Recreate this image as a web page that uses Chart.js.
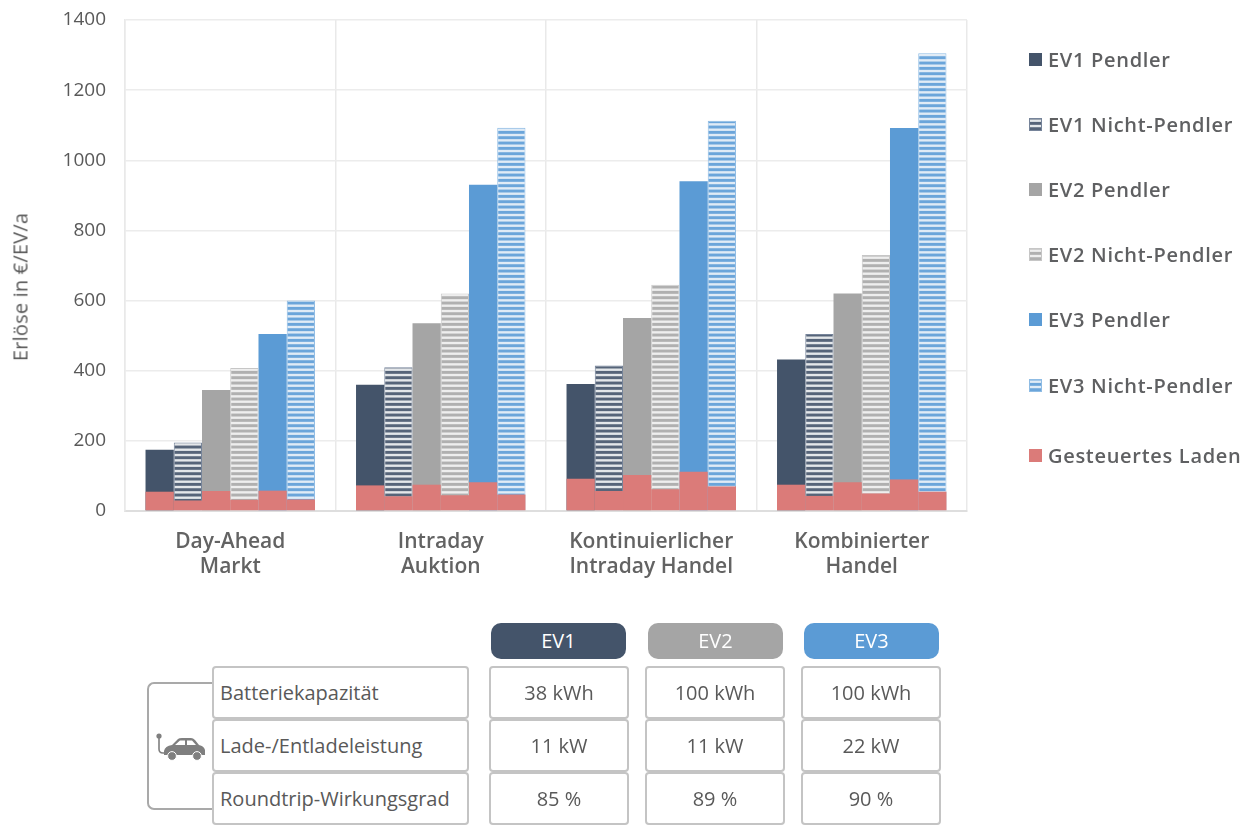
<!DOCTYPE html>
<html lang="de">
<head>
<meta charset="utf-8">
<title>Erlöse je EV und Vermarktungsoption</title>
<script src="https://cdn.jsdelivr.net/npm/chart.js@4"></script>
<style>
    html, body { margin: 0; padding: 0; background: #fff; width: 1248px; height: 825px; overflow: hidden; }
    body { position: relative; font-family: "Open Sans", sans-serif; color: #595959; }
    #revenueChart { position: absolute; left: 0; top: 0; }

    .axis-title { position: absolute; left: 20px; top: 287px; font-size: 20px; letter-spacing: 0.2px; white-space: nowrap;
        transform: translate(-50%, -50%) rotate(-90deg); }

    .legend-row { position: absolute; left: 1029px; height: 24px; display: flex; align-items: center;
        font-size: 20px; font-weight: 600; white-space: nowrap; color: #5f6062; letter-spacing: 0.7px; }
    .legend-swatch { width: 13px; height: 13px; margin-right: 6px; box-sizing: border-box; }

    .pill { position: absolute; top: 623px; height: 36px; width: 135px; border-radius: 10px; color: #fff;
        font-size: 20px; line-height: 36px; text-align: center; }
    .cell { position: absolute; height: 53px; box-sizing: border-box; border: 2px solid #c4c4c4; border-radius: 4px;
        background: #fff; line-height: 50px; white-space: nowrap; }
    .cell.param { left: 212px; width: 257px; padding-left: 6px; font-size: 20px; }
    .cell.value { width: 140px; text-align: center; font-size: 20px; }
    .bracket { position: absolute; left: 147px; top: 682px; width: 66px; height: 128px; box-sizing: border-box;
        border: 2px solid #a9a9a9; border-right: none; border-radius: 7px 0 0 7px; }
    .car { position: absolute; left: 155px; top: 730px; }
</style>
</head>
<body>
<canvas id="revenueChart" width="1248" height="825"></canvas>
<div class="axis-title">Erlöse in €/EV/a</div>
<div id="legend"></div>
<div id="specTable"></div>
<svg class="car" width="52" height="34" viewBox="0 0 52 34">
    <circle cx="4" cy="6" r="2.6" fill="#7f7f7f"/>
    <path d="M4 7 V19 Q4 23 8 23 H11" fill="none" stroke="#7f7f7f" stroke-width="1.6"/>
    <path d="M9 21 Q10 16 17 15 L23 9 Q24 8 27 8 H36 Q38 8 40 10 L44 15 Q49 16 50 20 V25 H9 Z" fill="#7f7f7f"/>
    <path d="M20 15 L25 10.5 H30 V15 Z M32 10.5 H37 L41 15 H32 Z" fill="#fff"/>
    <circle cx="17" cy="26" r="4.4" fill="#7f7f7f" stroke="#fff" stroke-width="1"/>
    <circle cx="42" cy="26" r="4.4" fill="#7f7f7f" stroke="#fff" stroke-width="1"/>
</svg>

<script>
// Märkte
const categories = [
    ['Day-Ahead', 'Markt'],
    ['Intraday', 'Auktion'],
    ['Kontinuierlicher', 'Intraday Handel'],
    ['Kombinierter', 'Handel']
];

// Gesamterlöse je Fahrzeugtyp (€/EV/a)
const ev1Pendler = [175, 360, 362, 432];
const ev1NichtPendler = [195, 410, 415, 505];
const ev2Pendler = [345, 535, 550, 620];
const ev2NichtPendler = [408, 620, 645, 730];
const ev3Pendler = [505, 930, 940, 1092];
const ev3NichtPendler = [600, 1093, 1113, 1305];

// Anteil aus gesteuertem Laden
const ladenEv1Pendler = [55, 73, 92, 75];
const ladenEv1NichtPendler = [30, 42, 57, 43];
const ladenEv2Pendler = [57, 75, 103, 82];
const ladenEv2NichtPendler = [32, 45, 62, 50];
const ladenEv3Pendler = [58, 82, 112, 90];
const ladenEv3NichtPendler = [33, 47, 70, 55];

const yTickMax = 1400;
const yTickStep = 200;

// Fahrzeugdaten
const specNames = ['Batteriekapazität', 'Lade-/Entladeleistung', 'Roundtrip-Wirkungsgrad'];
const ev1Specs = ['38 kWh', '11 kW', '85 %'];
const ev2Specs = ['100 kWh', '11 kW', '89 %'];
const ev3Specs = ['100 kWh', '22 kW', '90 %'];

const DARK = '#44546a';
const GREY = '#a5a5a5';
const BLUE = '#5b9bd5';
const RED = '#db7b79';
const TEXT = '#595959';

// Streifenmuster für die Nicht-Pendler
function stripes(color, gap) {
    const c = document.createElement('canvas');
    c.width = 4;
    c.height = 16;
    const g = c.getContext('2d');
    g.fillStyle = color;
    g.fillRect(0, 0, 4, 16);
    g.fillStyle = gap;
    for (let i = 0; i < 3; i++) {
        g.fillRect(0, i * 16 / 3 + 0.5, 4, 2.4);
    }
    return c;
}

const ctx = document.getElementById('revenueChart').getContext('2d');
const stripeDark = stripes('#566479', '#e4e7ea');
const stripeGrey = stripes('#b0b0b0', '#eeeeee');
const stripeBlue = stripes('#6ba5da', '#e0ebf6');

function solid(label, data, stack, color) {
    return { label, data, stack, backgroundColor: color, order: 2 };
}

function striped(label, data, stack, canvas, edge) {
    return {
        label, data, stack,
        backgroundColor: ctx.createPattern(canvas, 'repeat'),
        borderColor: edge,
        borderWidth: { left: 1, right: 1, top: 1, bottom: 0 },
        order: 2
    };
}

function laden(data, stack) {
    return { label: 'Gesteuertes Laden', data, stack, backgroundColor: RED, order: 1 };
}

const chart = new Chart(ctx, {
    type: 'bar',
    data: {
        labels: categories,
        datasets: [
            solid('EV1 Pendler', ev1Pendler, 'a', DARK),
            striped('EV1 Nicht-Pendler', ev1NichtPendler, 'b', stripeDark, '#76849a'),
            solid('EV2 Pendler', ev2Pendler, 'c', GREY),
            striped('EV2 Nicht-Pendler', ev2NichtPendler, 'd', stripeGrey, '#c6c6c6'),
            solid('EV3 Pendler', ev3Pendler, 'e', BLUE),
            striped('EV3 Nicht-Pendler', ev3NichtPendler, 'f', stripeBlue, '#8fbce4'),
            laden(ladenEv1Pendler, 'a'),
            laden(ladenEv1NichtPendler, 'b'),
            laden(ladenEv2Pendler, 'c'),
            laden(ladenEv2NichtPendler, 'd'),
            laden(ladenEv3Pendler, 'e'),
            laden(ladenEv3NichtPendler, 'f')
        ]
    },
    options: {
        responsive: false,
        animation: false,
        categoryPercentage: 0.805,
        barPercentage: 1,
        layout: { padding: { left: 10, top: 20, right: 281, bottom: 224 } },
        plugins: {
            legend: { display: false },
            tooltip: { enabled: false }
        },
        scales: {
            x: {
                grid: { color: '#e9e9e9', lineWidth: 1.5, drawTicks: false },
                border: { color: '#dedede', width: 2 },
                afterFit: scale => { scale.height = 90; },
                ticks: {
                    color: '#636363',
                    padding: 18,
                    maxRotation: 0,
                    autoSkip: false,
                    font: { family: 'Open Sans', size: 21, weight: '600', lineHeight: 1.22 }
                }
            },
            y: {
                stacked: false,
                min: 0,
                max: yTickMax,
                afterFit: scale => { scale.width = 115; },
                // unsichtbare Ticks als Abstand, ticks.padding würde die Zeichenfläche nach unten schieben
                grid: { color: '#ececec', lineWidth: 1.5, tickColor: 'rgba(0,0,0,0)', tickLength: 19 },
                border: { color: '#e9e9e9', width: 1.5 },
                ticks: {
                    stepSize: yTickStep,
                    color: TEXT,
                    padding: 0,
                    callback: value => String(value),
                    font: { family: 'Open Sans', size: 19, weight: '400' }
                }
            }
        }
    }
});

// Legende rechts neben dem Diagramm
const legendRows = [59, 124, 189, 254, 319, 385, 455];
const legendEl = document.getElementById('legend');
chart.data.datasets.slice(0, 7).forEach((ds, i) => {
    const row = document.createElement('div');
    row.className = 'legend-row';
    row.style.top = (legendRows[i] - 12) + 'px';
    const swatch = document.createElement('span');
    swatch.className = 'legend-swatch';
    const stripeSource = { 1: stripeDark, 3: stripeGrey, 5: stripeBlue }[i];
    if (stripeSource) {
        swatch.style.backgroundImage = `url(${stripeSource.toDataURL()})`;
        swatch.style.border = `1px solid ${ds.borderColor}`;
    } else {
        swatch.style.background = ds.backgroundColor;
    }
    const label = document.createElement('span');
    label.textContent = ds.label;
    row.append(swatch, label);
    legendEl.append(row);
});

// Tabelle mit den Fahrzeugdaten
const tableEl = document.getElementById('specTable');
const rowTops = [666, 719, 772];

function addBox(className, text, left, top) {
    const el = document.createElement('div');
    el.className = className;
    el.textContent = text;
    if (left !== null) el.style.left = left + 'px';
    el.style.top = top + 'px';
    tableEl.append(el);
    return el;
}

const bracket = document.createElement('div');
bracket.className = 'bracket';
tableEl.append(bracket);

[['EV1', 491, DARK], ['EV2', 648, GREY], ['EV3', 804, BLUE]].forEach(([name, left, color]) => {
    const pill = document.createElement('div');
    pill.className = 'pill';
    pill.textContent = name;
    pill.style.left = left + 'px';
    pill.style.background = color;
    tableEl.append(pill);
});

specNames.forEach((name, r) => {
    addBox('cell param', name, null, rowTops[r]);
    addBox('cell value', ev1Specs[r], 489, rowTops[r]);
    addBox('cell value', ev2Specs[r], 645, rowTops[r]);
    addBox('cell value', ev3Specs[r], 801, rowTops[r]);
});
</script>
</body>
</html>
